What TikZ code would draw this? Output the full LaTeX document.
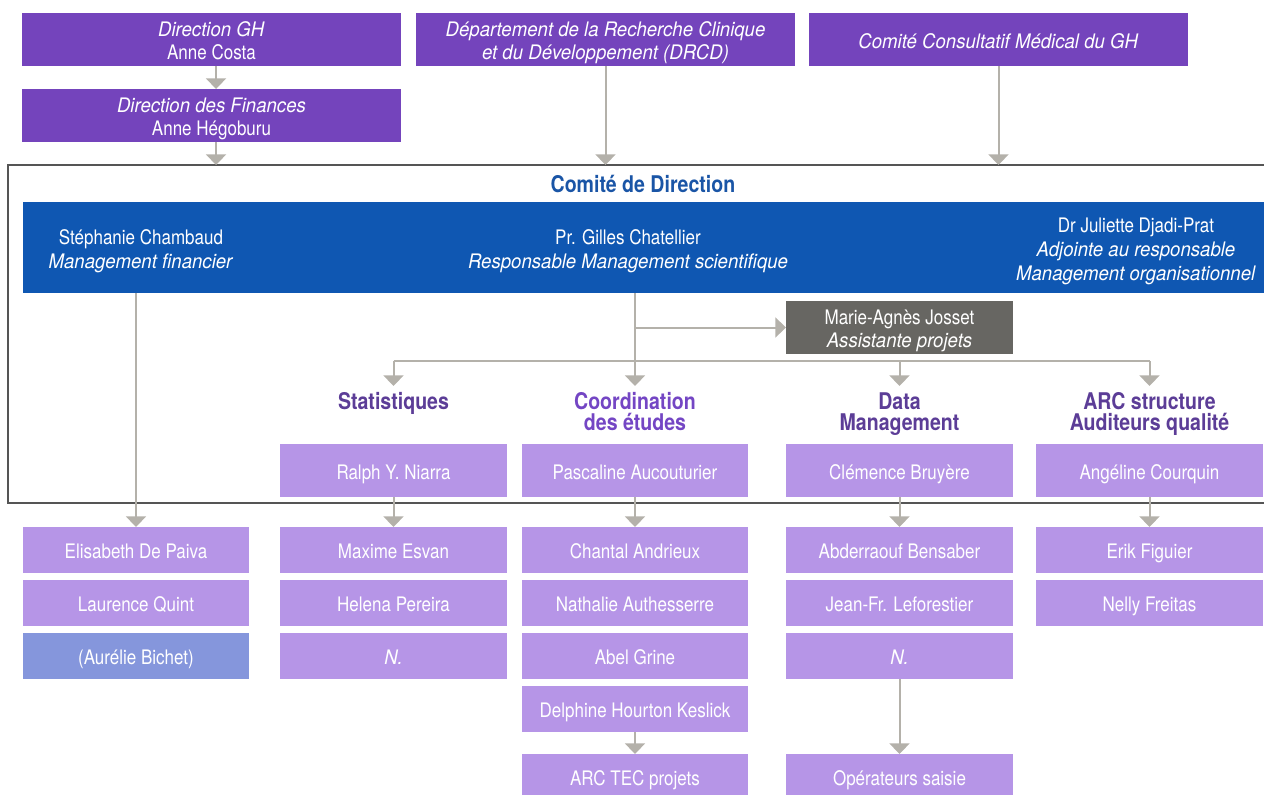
\documentclass[tikz,border=0pt]{standalone}
\usepackage{fontspec}
\setmainfont{TeX Gyre Heros}[UprightFeatures={FakeStretch=0.85}, BoldFeatures={FakeStretch=0.85}, ItalicFeatures={FakeStretch=0.93}]
\usetikzlibrary{arrows.meta}
\definecolor{topv}{HTML}{7444BC}
\definecolor{bandb}{HTML}{0F57B2}
\definecolor{lilac}{HTML}{B695E7}
\definecolor{peric}{HTML}{8596DC}
\definecolor{grayc}{HTML}{676662}
\definecolor{arrg}{HTML}{B4B1AA}
\definecolor{framec}{HTML}{555555}
\definecolor{titleb}{HTML}{1A55A6}
\definecolor{headd}{HTML}{5C3D97}
\definecolor{headb}{HTML}{7446C4}
\newcommand\bx[7]{\node[#6, minimum width={(#4-#2)*0.75pt}, minimum height={(#5-#3)*0.75pt}] (#1) at ({(#2+#4)/2},{(#3+#5)/2}) {#7};}
\newcommand\ml[1]{\rule{0pt}{17pt}#1\rule[-4pt]{0pt}{4pt}}
\newcommand\hr{\rule{0pt}{17.7pt}}
\tikzset{
  box/.style={inner sep=0pt, outer sep=0pt, text=white, font=\fontsize{15}{17.5}\selectfont, align=center},
  topbox/.style={box, fill=topv},
  topone/.style={box, fill=topv, text height=13pt, text depth=0pt},
  lilbox/.style={box, fill=lilac, text height=13pt, text depth=0pt},
  peribox/.style={box, fill=peric, text height=13pt, text depth=0pt},
  graybox/.style={box, fill=grayc},
  bandbox/.style={inner sep=0pt, outer sep=0pt, fill=bandb},
  framebox/.style={inner sep=0pt, outer sep=0pt, draw=framec, line width=1.5pt},
  bandtxt/.style={inner sep=0pt, text=white, font=\fontsize{15}{18}\selectfont, align=center},
  head/.style={inner sep=0pt, anchor=north, font=\bfseries\fontsize{17.25}{15.75}\selectfont, align=center},
  arr/.style={draw=arrg, line width=1.5pt, -{Triangle[width=15pt,length=8pt]}},
  ln/.style={draw=arrg, line width=1.5pt}
}
\begin{document}
\begin{tikzpicture}[x=0.75pt,y=-0.75pt]
\useasboundingbox (0,0) rectangle (1264,794);
\clip (0,0) rectangle (1264,794);
% top boxes
\bx{dgh}{22}{13}{401}{66}{topbox}{\ml{\textit{Direction GH}\\Anne Costa}}
\bx{dfin}{22}{89}{401}{142}{topbox}{\ml{\textit{Direction des Finances}\\Anne Hégoburu}}
\bx{drcd}{416}{13}{795}{66}{topbox}{\ml{\textit{Département de la Recherche Clinique}\\\textit{et du Développement (DRCD)}}}
\bx{ccm}{809}{13}{1188}{66}{topone}{\textit{Comité Consultatif Médical du GH}}
% frame and band
\bx{frame}{8}{165}{1290}{503}{framebox}{}
\node[font=\bfseries\fontsize{17.25}{20}\selectfont, text=titleb, anchor=base, inner sep=0pt] (cdd) at (643,192) {Comité de Direction};
\bx{band}{23}{202}{1264}{293}{bandbox}{}
\node[bandtxt] (steph) at (141,247.5) {\ml{Stéphanie Chambaud\\\textit{Management financier}}};
\node[bandtxt] (gilles) at (628,247.5) {\ml{Pr. Gilles Chatellier\\\textit{Responsable Management scientifique}}};
\node[bandtxt] (jul) at (1136,247.5) {\ml{Dr Juliette Djadi-Prat\\\textit{Adjointe au responsable}\\\textit{Management organisationnel}}};
\bx{ma}{786}{301}{1013}{354}{graybox}{\ml{Marie-Agnès Josset\\\textit{Assistante projets}}}
% headings
\node[head, text=headd] (stat) at (393.5,386) {\hr Statistiques};
\node[head, text=headb] (coord) at (635,386) {\hr Coordination\\des études};
\node[head, text=headd] (data) at (899.5,386) {\hr Data\\Management};
\node[head, text=headd] (arcs) at (1149.5,386) {\hr ARC structure\\Auditeurs qualité};
% inner row
\bx{b2}{280}{444}{507}{497}{lilbox}{Ralph Y. Niarra}
\bx{b3}{522}{444}{748}{497}{lilbox}{Pascaline Aucouturier}
\bx{b4}{786}{444}{1013}{497}{lilbox}{Clémence Bruyère}
\bx{b5}{1036}{444}{1263}{497}{lilbox}{Angéline Courquin}
% lower rows
\bx{a1}{23}{527}{249}{573}{lilbox}{Elisabeth De Paiva}
\bx{q1}{23}{580}{249}{626}{lilbox}{Laurence Quint}
\bx{r1}{23}{633}{249}{679}{peribox}{(Aurélie Bichet)}
\bx{a2}{280}{527}{507}{573}{lilbox}{Maxime Esvan}
\bx{q2}{280}{580}{507}{626}{lilbox}{Helena Pereira}
\bx{r2}{280}{633}{507}{679}{lilbox}{\textit{N.}}
\bx{a3}{522}{527}{748}{573}{lilbox}{Chantal Andrieux}
\bx{q3}{522}{580}{748}{626}{lilbox}{Nathalie Authesserre}
\bx{r3}{522}{633}{748}{679}{lilbox}{Abel Grine}
\bx{s3}{522}{686}{748}{732}{lilbox}{Delphine Hourton Keslick}
\bx{t3}{522}{754}{748}{800}{lilbox}{ARC TEC projets}
\bx{a4}{786}{527}{1013}{573}{lilbox}{Abderraouf Bensaber}
\bx{q4}{786}{580}{1013}{626}{lilbox}{Jean-Fr. Leforestier}
\bx{r4}{786}{633}{1013}{679}{lilbox}{\textit{N.}}
\bx{t4}{786}{754}{1013}{800}{lilbox}{Opérateurs saisie}
\bx{a5}{1036}{527}{1263}{573}{lilbox}{Erik Figuier}
\bx{q5}{1036}{580}{1263}{626}{lilbox}{Nelly Freitas}
% connectors
\draw[arr] ([xshift=3.4pt]dgh.south) -- ([xshift=3.4pt]dfin.north);
\draw[arr] ([xshift=3.4pt]dfin.south) -- ([xshift=3.4pt]dfin.south |- frame.north);
\draw[arr] (drcd.south) -- (drcd.south |- frame.north);
\draw[arr] (ccm.south) -- (ccm.south |- frame.north);
\draw[arr] (a1.north |- band.south) -- (a1.north);
\draw[arr] (coord.north |- band.south) -- (coord.north);
\draw[arr] (coord.north |- ma.west) -- (ma.west);
\coordinate (hy) at (0,361);
\draw[ln] (stat.north |- hy) -- (arcs.north |- hy);
\draw[arr] (stat.north |- hy) -- (stat.north);
\draw[arr] (data.north |- hy) -- (data.north);
\draw[arr] (arcs.north |- hy) -- (arcs.north);
\draw[arr] (b2.south) -- (a2.north);
\draw[arr] (b3.south) -- (a3.north);
\draw[arr] (b4.south) -- (a4.north);
\draw[arr] (b5.south) -- (a5.north);
\draw[arr] (s3.south) -- (t3.north);
\draw[arr] (r4.south) -- (t4.north);
\end{tikzpicture}
\end{document}
